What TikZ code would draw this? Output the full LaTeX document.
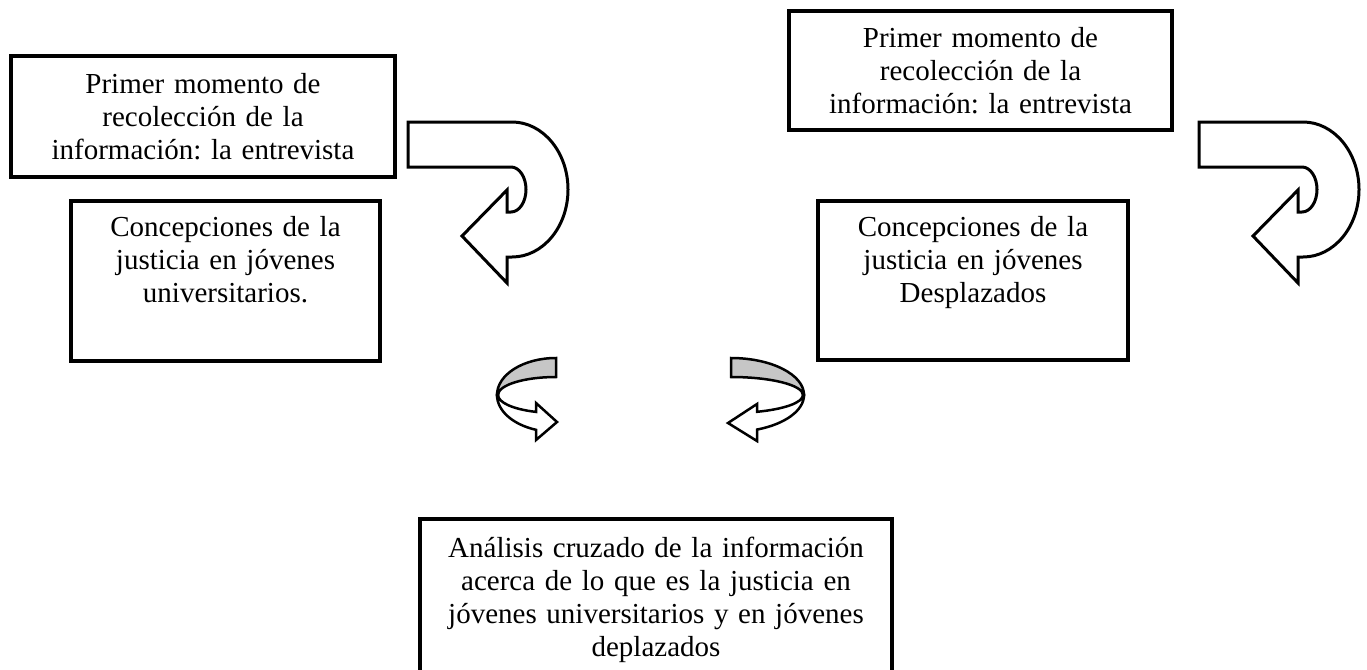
\documentclass[tikz,border=0pt]{standalone}
\usepackage{fontspec}
\setmainfont{Liberation Serif}
\frenchspacing
\newcommand{\boxfont}{\fontsize{29}{33}\selectfont}
\tikzset{
    stage/.style={
        rectangle, draw=black, line width=3.5pt, inner sep=0pt
    },
    stagetext/.style={
        anchor=base, align=center, text width=360pt,
        inner sep=0pt, font=\boxfont
    },
    uturn/.style={draw=black, line width=3pt, fill=white, line join=miter},
    twist/.style={draw=black, line width=2.5pt, fill=white, line join=miter},
    backface/.style={twist, fill=gray!45}
}

\begin{document}
\begin{tikzpicture}[x=1pt, y=-1pt]
\useasboundingbox (0,0) rectangle (1367,669);
\clip (0,0) rectangle (1367,669);

% Stage boxes
\node[stage, minimum width=384pt, minimum height=121pt] (entL) at (203,116.5) {};
\node[stage, minimum width=309pt, minimum height=160pt] (uni) at (225.5,281) {};
\node[stage, minimum width=383pt, minimum height=119pt] (entR) at (980.5,70.5) {};
\node[stage, minimum width=310pt, minimum height=159pt] (desp) at (973,280.5) {};
\node[stage, minimum width=472pt, minimum height=170pt] (cruce) at (656,604) {};

% Box texts
\node[stagetext] (entLtxt) at ([yshift=-39pt]entL.north)
    {Primer momento de\\recolección de la\\información: la entrevista};
\node[stagetext] (unitxt) at ([yshift=-37pt]uni.north)
    {Concepciones de la\\justicia en jóvenes\\universitarios.};
\node[stagetext] (entRtxt) at ([yshift=-38pt]entR.north)
    {Primer momento de\\recolección de la\\información: la entrevista};
\node[stagetext] (desptxt) at ([yshift=-37pt]desp.north)
    {Concepciones de la\\justicia en jóvenes\\Desplazados};
\node[stagetext, text width=450pt] (crucetxt) at ([yshift=-40pt]cruce.north)
    {Análisis cruzado de la información\\acerca de lo que es la justicia en\\jóvenes universitarios y en jóvenes\\deplazados};

% U-turn arrows
\foreach \dx in {0,791}
  \draw[uturn, xshift=\dx pt] (408,122) -- (512,122)
    arc[start angle=-90, end angle=90, x radius=56, y radius=67.5]
    -- (507,257) -- (507,283) -- (462,236) -- (507,190) -- (507,212) -- (511,212)
    arc[start angle=90, end angle=-90, x radius=15, y radius=22.5]
    -- (408,167) -- cycle;

% Left twist arrow
\draw[twist] (497,395)
    arc[start angle=180, end angle=109.8, x radius=59, y radius=37]
    -- (536,440) -- (557,422) -- (536,403) -- (536,411.9)
    arc[start angle=110.2, end angle=180, x radius=58, y radius=18] -- cycle;
\draw[backface] (556,358)
    arc[start angle=270, end angle=180, x radius=59, y radius=37] -- (498,395)
    arc[start angle=180, end angle=270, x radius=58, y radius=18] -- cycle;

% Right twist arrow
\draw[twist] (804,395)
    arc[start angle=0, end angle=69.1, x radius=73, y radius=37]
    -- (757,441) -- (728,423) -- (757,404) -- (757,411.8)
    arc[start angle=68.8, end angle=0, x radius=72, y radius=18] -- cycle;
\draw[backface] (731,358)
    arc[start angle=-90, end angle=0, x radius=73, y radius=37] -- (803,395)
    arc[start angle=0, end angle=-90, x radius=72, y radius=18] -- cycle;

\end{tikzpicture}
\end{document}
